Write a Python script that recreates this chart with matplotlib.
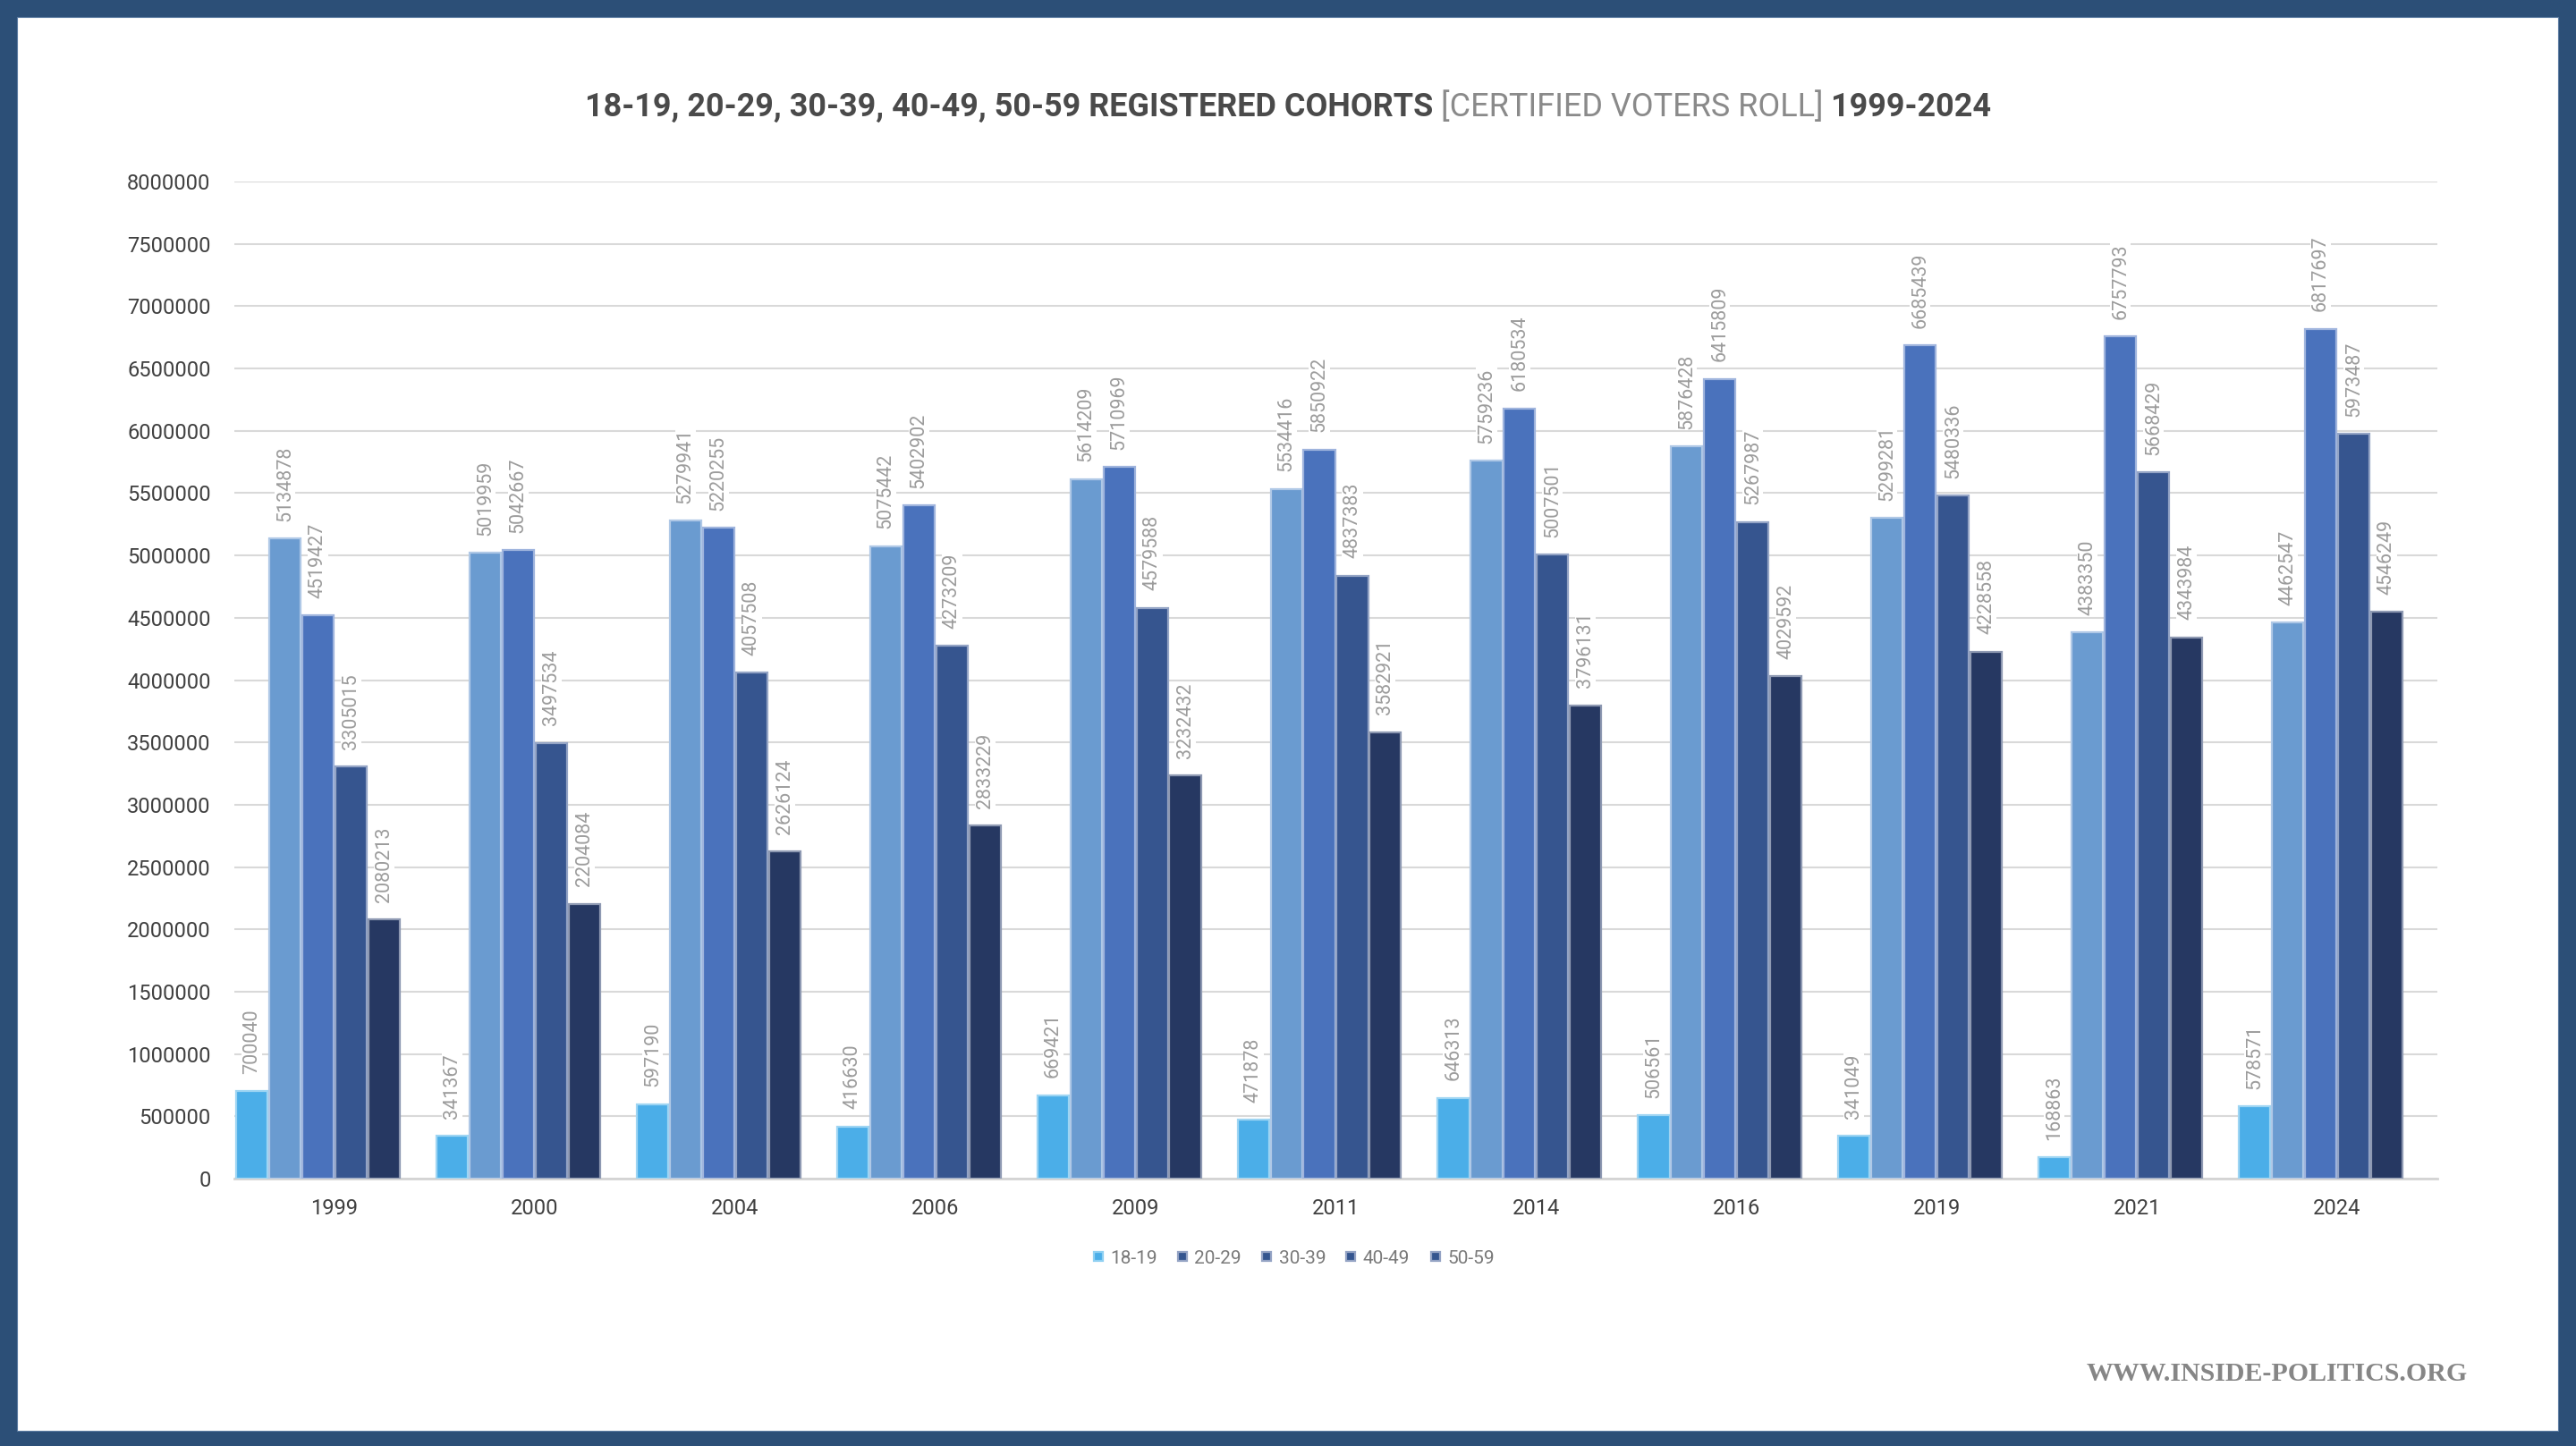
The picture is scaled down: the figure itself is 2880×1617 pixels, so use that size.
import matplotlib
matplotlib.use('Agg')
import matplotlib.pyplot as plt
from matplotlib.patches import Rectangle
from matplotlib.lines import Line2D
import numpy as np

years = ['1999', '2000', '2004', '2006', '2009', '2011', '2014', '2016', '2019', '2021', '2024']
cohorts = ['18-19', '20-29', '30-39', '40-49', '50-59']

age_18_19 = [700040, 341367, 597190, 416630, 669421, 471878, 646313, 506561, 341049, 168863, 578571]
age_20_29 = [5134878, 5019959, 5279941, 5075442, 5614209, 5534416, 5759236, 5876428, 5299281, 4383350, 4462547]
age_30_39 = [4519427, 5042667, 5220255, 5402902, 5710969, 5850922, 6180534, 6415809, 6685439, 6757793, 6817697]
age_40_49 = [3305015, 3497534, 4057508, 4273209, 4579588, 4837383, 5007501, 5267987, 5480336, 5668429, 5973487]
age_50_59 = [2080213, 2204084, 2626124, 2833229, 3232432, 3582921, 3796131, 4029592, 4228558, 4343984, 4546249]

series = [age_18_19, age_20_29, age_30_39, age_40_49, age_50_59]
fills = ['#4BAEE8', '#6A9BD0', '#4A72BC', '#36558F', '#263862']
edges = ['#9ED5F3', '#AFC8E6', '#9FB4DD', '#94A4C5', '#8E99B2']

plt.rcParams['font.family'] = ['Roboto', 'DejaVu Sans']

W, H = 2880, 1617
fig = plt.figure(figsize=(W / 100, H / 100), dpi=100)
fig.patch.set_facecolor('#2C4F77')
# white card inside the blue frame
fig.patches.append(Rectangle((19 / W, (H - 1600) / H), (2860 - 19) / W, (1600 - 19) / H,
                             transform=fig.transFigure, facecolor='white', edgecolor='#5A7AA0',
                             linewidth=0.8, zorder=-5))

ax = fig.add_axes([262 / W, 1 - 1318 / H, (2725 - 262) / W, (1318 - 203) / H])
ax.set_zorder(2)
ax.set_facecolor('white')

x = np.arange(len(years))
slot = 0.165
for k, vals in enumerate(series):
    pos = x - 0.495 + (k + 0.5) * slot
    ax.bar(pos, vals, width=slot * 0.95, color=fills[k], edgecolor=edges[k],
           linewidth=1.6, zorder=3)
    for xp, v in zip(pos, vals):
        ax.annotate(str(v), (xp, v), xytext=(0, 14), textcoords='offset points',
                    rotation=90, ha='center', va='bottom', fontsize=15.5, color='#9C9C9C',
                    zorder=4, bbox=dict(boxstyle='square,pad=0.05', fc='white', ec='none'))

ax.set_xlim(-0.5, len(years) - 0.5)
ax.set_ylim(0, 8000000)
ax.set_yticks(np.arange(0, 8000001, 500000))
ax.set_yticklabels([str(v) for v in range(0, 8000001, 500000)])
ax.set_xticks(x)
ax.set_xticklabels(years)
ax.tick_params(axis='both', length=0, labelsize=17, labelcolor='#404040')
ax.tick_params(axis='y', pad=19)
ax.tick_params(axis='x', pad=16)
ax.grid(axis='y', color='#D9D9D9', linewidth=1.5, zorder=0)
ax.set_axisbelow(True)
for s in ['top', 'right', 'left']:
    ax.spines[s].set_visible(False)
ax.spines['bottom'].set_color('#D4D4D4')
ax.spines['bottom'].set_linewidth(2)

# legend (as drawn in the source: the last four share one marker colour)
leg_fill = ['#4BAEE8', '#34558F', '#34558F', '#34558F', '#34558F']
leg_edge = ['#8FD0F2', '#94A3C4', '#94A3C4', '#94A3C4', '#94A3C4']
handles = [Line2D([], [], linestyle='none', marker='s', markersize=7.5,
                  markerfacecolor=leg_fill[i], markeredgecolor=leg_edge[i],
                  markeredgewidth=1.6) for i in range(5)]
fig.legend(handles, cohorts, loc='center', bbox_to_anchor=(1446 / W, 1 - 1407 / H), ncol=5,
           frameon=False, fontsize=15, labelcolor='#7A7A7A', handlelength=0.6,
           handletextpad=0.35, columnspacing=1.05)

# title built from three pieces, sized to span the same width as the source
title_parts = ['18-19, 20-29, 30-39, 40-49, 50-59 REGISTERED COHORTS ',
               '[CERTIFIED VOTERS ROLL]', ' 1999-2024']
title_colors = ['#4A4A4A', '#8A8A8A', '#4A4A4A']
title_weights = ['bold', 'normal', 'bold']
renderer = fig.canvas.get_renderer()
texts = []
for p, c, w in zip(title_parts, title_colors, title_weights):
    t = fig.text(0, 1 - 120 / H, p, color=c, fontweight=w, fontsize=26,
                 ha='left', va='center')
    texts.append(t)
widths = [t.get_window_extent(renderer).width for t in texts]
scale = 1573 / sum(widths)
for t in texts:
    t.set_fontsize(26 * scale)
widths = [t.get_window_extent(renderer).width for t in texts]
xs = 1440 - sum(widths) / 2
for t, wd in zip(texts, widths):
    t.set_x(xs / W)
    xs += wd

fig.text(2759 / W, 1 - 1536 / H, 'WWW.INSIDE-POLITICS.ORG', ha='right', va='center',
         fontsize=21.5, fontweight='bold', color='#868686',
         family=['Liberation Serif', 'DejaVu Serif'])

plt.savefig('out.png', dpi=100, facecolor=fig.get_facecolor())
